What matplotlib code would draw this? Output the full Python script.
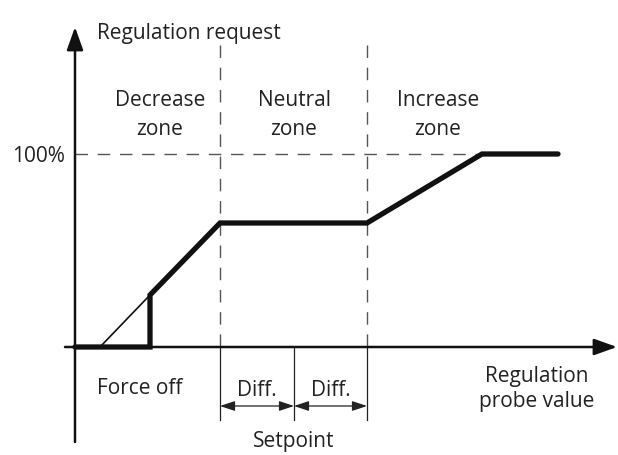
import matplotlib.pyplot as plt

# chart coordinates (pixel units of the original drawing, y grows downward)
origin_x, origin_y = 75, 347
curve_x = [75, 150, 150, 220, 367, 482, 558]
curve_y = [347, 347, 295, 223, 223, 154, 154]
ramp_x = [100, 150]
ramp_y = [347, 295]
level_100 = 154
zone_edges = [220, 367]
setpoint = 294
zone_labels = ["Decrease\nzone", "Neutral\nzone", "Increase\nzone"]
zone_centers = [160, 294, 438]

plt.rcParams['font.family'] = ['Open Sans', 'DejaVu Sans']
fs = 15
txt = '#222222'
fig = plt.figure(figsize=(6.18, 4.55), dpi=100)
ax = fig.add_axes([0, 0, 1, 1])
ax.set_xlim(0, 618)
ax.set_ylim(455, 0)
ax.axis('off')

# axes with arrows
ax.annotate('', xy=(origin_x, 27), xytext=(origin_x, 442),
            arrowprops=dict(arrowstyle='-|>,head_length=1.4,head_width=0.5', color='#111111', lw=1.8,
                            shrinkA=0, shrinkB=0))
ax.annotate('', xy=(617, origin_y), xytext=(65, origin_y),
            arrowprops=dict(arrowstyle='-|>,head_length=1.4,head_width=0.5', color='#111111', lw=1.8,
                            shrinkA=0, shrinkB=0))

# dashed guides
ax.plot([origin_x, curve_x[5]], [level_100, level_100], color='#555555', lw=1.0, dashes=(9, 7))
for xe in zone_edges:
    ax.plot([xe, xe], [45, origin_y], color='#555555', lw=1.0, dashes=(9, 7))

# solid ticks below axis
for xe in [zone_edges[0], setpoint, zone_edges[1]]:
    ax.plot([xe, xe], [origin_y, 420], color='#222222', lw=0.9)

# diff arrows
for a, b in [(zone_edges[0], setpoint), (setpoint, zone_edges[1])]:
    ax.annotate('', xy=(a, 406), xytext=(b, 406),
                arrowprops=dict(arrowstyle='<|-|>,head_length=0.9,head_width=0.3', color='#222222', lw=0.9,
                                shrinkA=0, shrinkB=0))
    ax.text((a + b) / 2, 391, 'Diff.', ha='center', va='center', fontsize=fs, color=txt)

# curves
ax.plot(ramp_x, ramp_y, color='#111111', lw=1.2)
ax.plot(curve_x, curve_y, color='#111111', lw=3.8, solid_joinstyle='miter', solid_capstyle='round')

# labels
ax.text(97, 33, 'Regulation request', ha='left', va='center', fontsize=fs, color=txt)
for lab, cx in zip(zone_labels, zone_centers):
    ax.text(cx, 115, lab, ha='center', va='center', fontsize=fs, linespacing=1.45, color=txt)
ax.text(65, 156, '100%', ha='right', va='center', fontsize=fs, color=txt)
ax.text(140, 389, 'Force off', ha='center', va='center', fontsize=fs, color=txt)
ax.text(setpoint, 441, 'Setpoint', ha='center', va='center', fontsize=fs, color=txt)
ax.text(537, 389, 'Regulation\nprobe value', ha='center', va='center', fontsize=fs, linespacing=1.3, color=txt)

fig.savefig('out.png', dpi=100)
